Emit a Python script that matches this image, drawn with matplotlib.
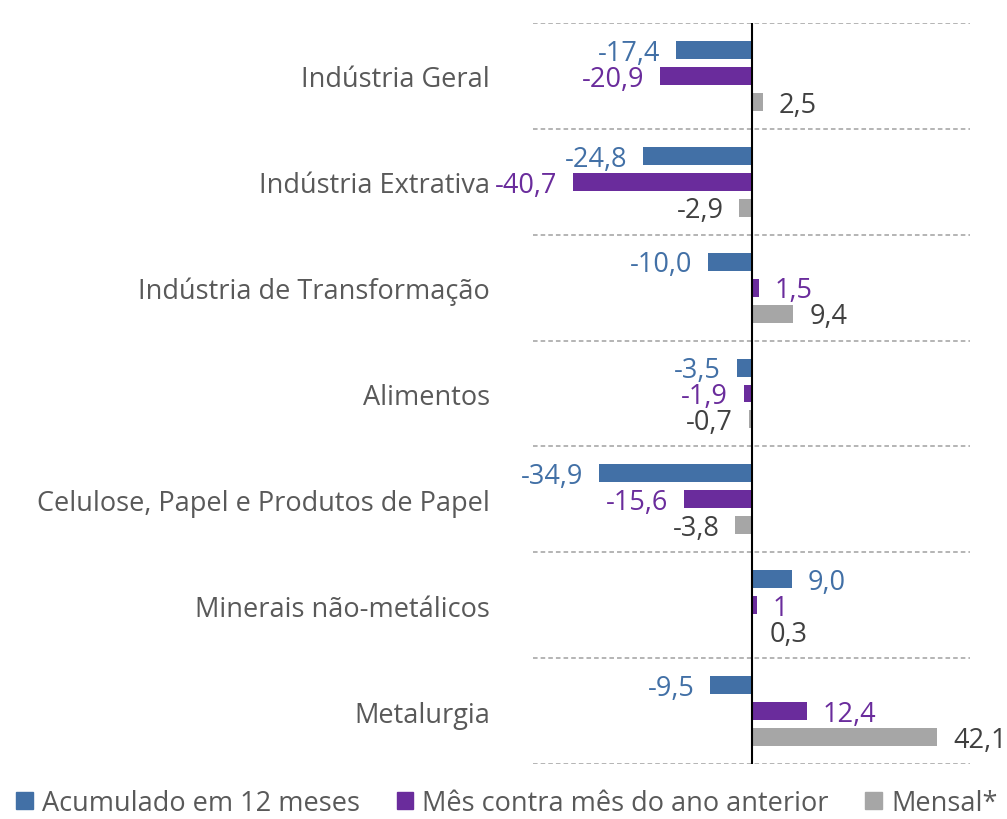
import matplotlib
matplotlib.use("Agg")
import matplotlib.pyplot as plt
from matplotlib.patches import Patch
import numpy as np

plt.rcParams['font.family'] = ['Open Sans', 'DejaVu Sans']

categories = ["Indústria Geral", "Indústria Extrativa", "Indústria de Transformação",
              "Alimentos", "Celulose, Papel e Produtos de Papel",
              "Minerais não-metálicos", "Metalurgia"]
acumulado = [-17.4, -24.8, -10.0, -3.5, -34.9, 9.0, -9.5]
mes_ano = [-20.9, -40.7, 1.5, -1.9, -15.6, 1.0, 12.4]
mensal = [2.5, -2.9, 9.4, -0.7, -3.8, 0.3, 42.1]
acumulado_lbl = ["-17,4", "-24,8", "-10,0", "-3,5", "-34,9", "9,0", "-9,5"]
mes_ano_lbl = ["-20,9", "-40,7", "1,5", "-1,9", "-15,6", "1", "12,4"]
mensal_lbl = ["2,5", "-2,9", "9,4", "-0,7", "-3,8", "0,3", "42,1"]
series_names = ["Acumulado em 12 meses", "Mês contra mês do ano anterior", "Mensal*"]

c_blue = "#4270A6"
c_purple = "#6A2C9C"
c_gray = "#A6A6A6"
c_text_gray = "#404040"
c_cat = "#595959"

fig = plt.figure(figsize=(10.07, 8.2), dpi=100)
ax = fig.add_axes([533/1007, 1 - 765/820, 437/1007, 741/820])

y = np.arange(len(categories))
off = 0.245
h = 0.17
series = [(acumulado, acumulado_lbl, c_blue, c_blue, -off),
          (mes_ano, mes_ano_lbl, c_purple, c_purple, 0.0),
          (mensal, mensal_lbl, c_gray, c_text_gray, off)]
fs = 19.5
for vals, lbls, col, tcol, o in series:
    ax.barh(y + o, vals, height=h, color=col, zorder=2)
    for yi, v, l in zip(y + o, vals, lbls):
        sgn = 1 if v >= 0 else -1
        ax.annotate(l, (v, yi), xytext=(sgn * 11.5, -2), textcoords='offset points',
                    ha='left' if v >= 0 else 'right', va='center',
                    color=tcol, fontsize=fs, zorder=4, annotation_clip=False)

ax.set_xlim(-49.9, 49.6)
ax.set_ylim(len(categories) - 0.5, -0.5)
for b in np.arange(-0.5, len(categories) + 0.5, 1):
    ax.axhline(b, color="#A0A0A0", lw=1.1, ls=(0, (3, 2)), zorder=1)
ax.axvline(0, color="black", lw=1.5, zorder=3)

ax.set_yticks(y)
ax.set_yticklabels(categories, fontsize=fs, color=c_cat)
ax.tick_params(axis='y', length=0, pad=31)
ax.set_xticks([])
for s in ax.spines.values():
    s.set_visible(False)

handles = [Patch(color=c) for c in (c_blue, c_purple, c_gray)]
leg = fig.legend(handles, series_names, loc='center', bbox_to_anchor=(507/1007, 1 - 804/820),
                 ncol=3, frameon=False, fontsize=19.5, handlelength=0.6, handleheight=0.6,
                 handletextpad=0.35, columnspacing=1.35, borderaxespad=0, borderpad=0)
for t in leg.get_texts():
    t.set_color(c_cat)

fig.savefig("out.png", dpi=100)
